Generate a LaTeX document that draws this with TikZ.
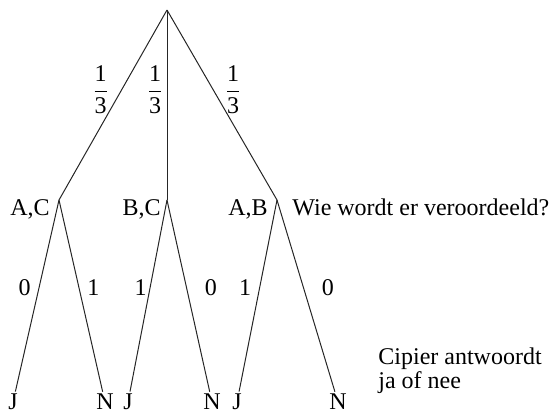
\documentclass[tikz,border=0pt,12pt]{standalone}
\usepackage{fontspec}
\setmainfont{Liberation Serif}
\begin{document}
\begin{tikzpicture}[x=0.5pt,y=-0.5pt]
            \tikzset{
                tak/.style={draw=black!85, line width=0.5pt},
                blad/.style={inner sep=1pt},
                kans/.style={inner sep=4pt}
            }
            \useasboundingbox (0,0) rectangle (550,413);

            \coordinate (r) at (167,10);
            \coordinate (ac) at (59,200);
            \coordinate (bc) at (167,200);
            \coordinate (ab) at (277,200);
            \node[anchor=base east, inner sep=0pt] (acl) at ([xshift=-4.5pt, yshift=-7.5pt]ac) {A,C};
            \node[anchor=base east, inner sep=0pt] (bcl) at ([xshift=-3pt, yshift=-7.5pt]bc) {B,C};
            \node[anchor=base east, inner sep=0pt] (abl) at ([xshift=-4.5pt, yshift=-7.5pt]ab) {A,B};
            \node[anchor=base west, inner sep=0pt] (vraag) at ([xshift=7.5pt, yshift=-7.5pt]ab) {Wie wordt er veroordeeld?};

            \node[blad] (j1) at (13,402) {J};
            \node[blad] (n1) at (105,402) {N};
            \node[blad] (j2) at (128,402) {J};
            \node[blad] (n2) at (212,402) {N};
            \node[blad] (j3) at (237,402) {J};
            \node[blad] (n3) at (338,402) {N};
            \node[anchor=base west, inner sep=0pt, align=left, font=\fontsize{12}{8.5}\selectfont] (cipier) at (378,388) {Cipier antwoordt\\ja of nee};

            % eerste keuze
            \draw[tak] (r) -- node[kans, pos=0.42, left, xshift=-2pt] {$\displaystyle\frac{\mbox{1}}{\mbox{3}}$} (ac);
            \draw[tak] (r) -- node[kans, pos=0.42, left, xshift=2.5pt] {$\displaystyle\frac{\mbox{1}}{\mbox{3}}$} (bc);
            \draw[tak] (r) -- node[kans, pos=0.42, right, xshift=1.5pt] {$\displaystyle\frac{\mbox{1}}{\mbox{3}}$} (ab);

            % antwoord cipier
            \draw[tak] (ac) -- node[kans, pos=0.456, left] {0} (j1);
            \draw[tak] (ac) -- node[kans, pos=0.456, right] {1} (n1);
            \draw[tak] (bc) -- node[kans, pos=0.456, left, xshift=2.5pt] {1} (j2);
            \draw[tak] (bc) -- node[kans, pos=0.456, right, xshift=5pt] {0} (n2);
            \draw[tak] (ab) -- node[kans, pos=0.456, left] {1} (j3);
            \draw[tak] (ab) -- node[kans, pos=0.456, right, xshift=5pt] {0} (n3);
        \end{tikzpicture}
\end{document}
